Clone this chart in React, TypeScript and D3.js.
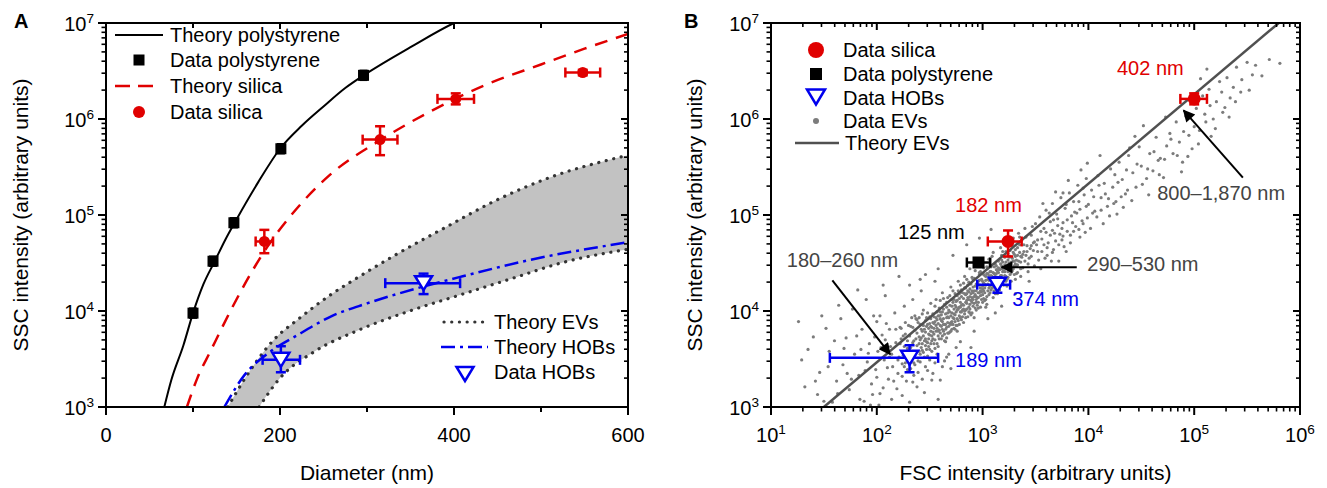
import React from 'react';
import * as d3 from 'd3';

// ---------------- Panel A data ----------------
const psTheoryD = [67, 75, 89, 100, 112, 125, 137, 150, 175, 200, 225, 250, 275, 300, 350, 400, 420];
const psTheoryI = [1e3, 1.9e3, 4.4e3, 9.5e3, 1.9e4, 3.3e4, 5.5e4, 9.0e4, 2.2e5, 4.9e5, 8.5e5, 1.35e6, 2.1e6, 3.0e6, 5.6e6, 1.0e7, 1.2e7];
const psDataD = [100, 123, 147, 201, 296];
const psDataI = [9.5e3, 3.3e4, 8.3e4, 4.9e5, 2.85e6];

const siTheoryD = [93, 105, 120, 143, 168, 185, 211, 257, 315, 369, 438, 500, 550, 600];
const siTheoryI = [1e3, 2.0e3, 3.8e3, 1.0e4, 2.6e4, 4.6e4, 9.5e4, 2.6e5, 6.0e5, 1.15e6, 2.3e6, 3.7e6, 5.4e6, 7.7e6];
const siDataD = [182, 315, 402, 548];
const siDataI = [5.3e4, 6.1e5, 1.62e6, 3.05e6];
const siDataDErr = [10, 20, 21, 20];
const siDataILo = [4.0e4, 4.2e5, 1.42e6, 2.85e6];
const siDataIHi = [7.0e4, 8.4e5, 1.85e6, 3.25e6];

const evUpperD = [140, 160, 191, 223, 257, 295, 334, 391, 449, 507, 600];
const evUpperI = [1e3, 2.0e3, 4.8e3, 8.5e3, 1.45e4, 2.4e4, 3.9e4, 7.5e4, 1.43e5, 2.4e5, 4.2e5];
const evLowerD = [176, 200, 240, 290, 349, 410, 468, 525, 600];
const evLowerI = [1e3, 2.0e3, 3.8e3, 6.3e3, 1.0e4, 1.5e4, 2.2e4, 3.2e4, 4.4e4];

const hobTheoryD = [136, 160, 184, 220, 260, 300, 365, 410, 487, 600];
const hobTheoryI = [1e3, 2.2e3, 3.5e3, 5.6e3, 8.9e3, 1.2e4, 1.8e4, 2.3e4, 3.4e4, 5.2e4];
const hobDataD = [201, 365];
const hobDataI = [3.1e3, 1.95e4];
const hobDataDLo = [180, 321];
const hobDataDHi = [223, 407];
const hobDataILo = [2.3e3, 1.5e4];
const hobDataIHi = [4.3e3, 2.45e4];

const xTicksA = [0, 200, 400, 600];
const xMinorA = [100, 300, 500];
const decadeExps = [3, 4, 5, 6, 7];
const xDecadeExpsB = [1, 2, 3, 4, 5, 6];

// ---------------- Panel B data ----------------
const siB_F = [1.0e5, 1.74e3];
const siB_I = [1.62e6, 5.3e4];
const siB_FLo = [7.4e4, 1.12e3];
const siB_FHi = [1.32e5, 2.34e3];
const siB_ILo = [1.42e6, 3.7e4];
const siB_IHi = [1.85e6, 6.9e4];

const psB_F = [915];
const psB_I = [3.2e4];
const psB_FLo = [710];
const psB_FHi = [1.18e3];

const hobB_F = [204, 1.38e3];
const hobB_I = [3.25e3, 1.88e4];
const hobB_FLo = [36, 890];
const hobB_FHi = [380, 1.82e3];
const hobB_ILo = [2.3e3, 1.55e4];
const hobB_IHi = [4.4e3, 2.24e4];

const evTheoryB_F = [31.6, 6.3e5];
const evTheoryB_I = [1e3, 1e7];

// EV scatter points, as "log10(FSC),log10(SSC)" pairs
const evPointsLog = `
2.21,3.52 2.23,3.71 2.24,3.45 2.26,3.63 2.27,3.88 2.28,3.58 2.29,3.39 2.31,3.74 2.32,3.62 2.33,3.51 2.34,3.83 2.35,3.69 2.36,3.95 2.37,3.57 2.38,3.77 2.39,3.48 2.40,3.66 2.41,3.86 2.42,3.72 2.43,3.59 2.44,4.01 2.45,3.81 2.46,3.64 2.47,3.93 2.48,3.53 2.49,3.76 2.50,3.87 2.51,4.08 2.52,3.69 2.53,3.97 2.54,3.82 2.55,3.61 2.56,4.12 2.57,3.91 2.58,3.74 2.59,4.03 2.60,3.85 2.61,3.96 2.62,4.19 2.63,3.79 2.64,4.07 2.65,3.68 2.66,3.93 2.67,4.14 2.68,4.01 2.69,3.87 2.70,4.25 2.71,3.98 2.72,4.09 2.73,3.82 2.74,4.18 2.75,4.04 2.76,3.92 2.77,4.31 2.78,4.13 2.79,3.99 2.80,4.22 2.81,4.07 2.82,3.88 2.83,4.36 2.84,4.17 2.85,4.02 2.86,4.27 2.87,4.12 2.88,4.44 2.89,3.96 2.90,4.21 2.91,4.33 2.92,4.08 2.93,4.26 2.94,4.15 2.95,4.48 2.96,4.03 2.97,4.38 2.98,4.24 2.99,4.12 3.00,4.31 3.01,4.45 3.02,4.19 3.03,4.36 3.04,4.07 3.05,4.28 3.06,4.54 3.07,4.41 3.08,4.22 3.09,4.33 3.10,4.61 3.11,4.46 3.12,4.27 3.13,4.39 3.14,4.18 3.15,4.52 3.16,4.35 3.17,4.66 3.18,4.44 3.19,4.29 3.20,4.57 3.21,4.48 3.22,4.36 3.23,4.71 3.24,4.53 3.25,4.42 3.26,4.63 3.27,4.31 3.28,4.55 3.29,4.76 3.30,4.47 3.31,4.64 3.32,4.39 3.33,4.58 3.34,4.81 3.35,4.69 3.36,4.51 3.37,4.74 3.38,4.45 3.39,4.62 3.40,4.86 3.42,4.68 3.44,4.55 3.46,4.79 3.48,4.63 3.50,4.91
2.22,3.66 2.25,3.54 2.27,3.76 2.30,3.49 2.32,3.84 2.34,3.67 2.36,3.55 2.38,3.91 2.40,3.73 2.42,3.62 2.44,3.85 2.46,3.71 2.48,3.98 2.50,3.75 2.52,3.58 2.54,3.94 2.56,3.79 2.58,3.87 2.60,4.11 2.62,3.89 2.64,3.76 2.66,4.04 2.68,3.84 2.70,3.95 2.72,4.21 2.74,3.96 2.76,4.11 2.78,3.86 2.80,4.06 2.82,4.29 2.84,4.01 2.86,4.14 2.88,4.23 2.90,3.98 2.92,4.34 2.94,4.21 2.96,4.09 2.98,4.41 3.00,4.17 3.02,4.28 3.04,4.46 3.06,4.24 3.08,4.37 3.10,4.14 3.12,4.49 3.14,4.31 3.16,4.43 3.18,4.58 3.20,4.34 3.22,4.62 3.24,4.41 3.26,4.49 3.28,4.68 3.30,4.38 3.32,4.53 3.34,4.71 3.36,4.44 3.38,4.59 3.41,4.77 3.43,4.49 3.45,4.65 3.47,4.88 3.49,4.72
2.23,3.82 2.26,3.42 2.29,3.69 2.33,3.93 2.35,3.46 2.37,3.71 2.41,3.55 2.43,3.97 2.45,3.52 2.47,3.84 2.49,3.63 2.51,3.92 2.53,3.71 2.55,4.05 2.57,3.66 2.59,3.95 2.61,3.71 2.63,4.13 2.65,3.86 2.67,3.77 2.69,4.16 2.71,3.89 2.73,4.12 2.75,3.85 2.77,4.02 2.79,4.27 2.81,3.94 2.83,4.18 2.85,4.33 2.87,3.99 2.89,4.28 2.91,4.05 2.93,4.42 2.95,4.14 2.97,4.27 2.99,4.51 3.01,4.21 3.03,4.12 3.05,4.39 3.07,4.26 3.09,4.57 3.11,4.34 3.13,4.24 3.15,4.45 3.17,4.37 3.19,4.62 3.21,4.41 3.23,4.33 3.25,4.56 3.27,4.73 3.29,4.44 3.31,4.57 3.33,4.48 3.35,4.77 3.37,4.56 3.39,4.69
1.26,3.89 1.40,3.73 1.29,3.49 1.32,3.21 1.44,3.13 1.46,3.36 1.55,3.58 1.62,3.27 1.58,3.05 1.68,3.44 1.71,3.72 1.66,3.92 1.74,3.18 1.79,3.55 1.83,3.33 1.86,3.81 1.88,3.06 1.91,3.47 1.93,3.66 1.95,3.24 1.97,3.95 1.99,3.39 2.01,3.58 2.03,3.14 2.05,3.75 2.07,3.49 2.09,3.87 2.11,3.29 2.13,3.63 2.15,3.42 2.17,3.98 2.19,3.19 2.02,3.02 2.14,3.08 2.24,3.12 2.31,3.05 2.38,3.21 2.45,3.15 2.52,3.28 2.58,3.08 2.35,3.33 2.48,3.38 2.62,3.42 2.55,3.46 2.68,3.55 1.77,4.02 1.90,4.12 2.00,3.89 2.08,4.16 2.18,3.81 1.52,3.82 1.60,3.69 1.85,3.60 1.72,3.35 1.94,3.02 2.12,3.52 2.20,3.35 2.28,3.27 2.26,4.05 2.34,4.12 2.42,4.21
3.52,4.74 3.54,4.98 3.56,4.62 3.58,4.86 3.60,5.05 3.62,4.71 3.64,4.93 3.66,5.12 3.68,4.81 3.70,5.01 3.72,4.69 3.74,5.18 3.76,4.92 3.78,5.07 3.80,4.83 3.82,5.23 3.84,4.99 3.86,5.14 3.88,4.88 3.90,5.31 3.92,5.06 3.94,4.94 3.96,5.21 3.98,5.38 4.00,5.11 3.55,4.83 3.63,5.02 3.71,4.89 3.79,5.11 3.87,5.03 3.95,5.28 3.59,4.55 3.67,4.64 3.75,4.74 3.83,4.79 3.91,4.85 3.99,4.97 3.57,5.12 3.69,5.24 3.81,5.36 3.93,5.47 3.76,5.23 3.99,5.54 3.65,4.52
4.03,5.26 4.06,5.04 4.09,5.41 4.12,5.18 4.15,5.33 4.18,5.09 4.21,5.48 4.23,5.29 4.26,5.14 4.29,5.55 4.32,5.37 4.35,5.22 4.38,5.62 4.39,5.70 4.42,5.44 4.45,5.29 4.48,5.71 4.50,5.51 4.52,5.93 4.55,5.38 4.58,5.64 4.61,5.46 4.64,5.81 4.66,5.57 4.68,5.59 4.71,5.39 4.74,5.72 4.77,5.85 4.80,5.64 4.83,5.97 4.86,5.76 4.89,5.55 4.92,6.03 4.95,5.83 4.98,5.69 4.11,5.62 4.27,5.01 4.44,5.82 4.57,5.21 4.73,6.02 4.88,5.45
5.02,6.11 5.05,5.88 5.08,6.24 5.11,5.97 5.14,6.31 5.18,6.00 5.21,6.18 5.24,6.39 5.27,6.07 5.31,6.43 5.34,6.22 5.37,6.33 5.40,6.54 5.44,6.28 5.50,6.59 5.55,6.46 5.81,6.58 5.06,6.42 5.16,5.82 5.29,6.12 4.96,6.21 5.12,6.52
2.31,4.27 2.46,4.38 2.58,4.44 2.72,4.58 2.85,4.69 2.97,4.76 3.08,4.85 2.66,3.52 2.79,3.68 2.92,3.79 3.05,3.92 3.18,4.05 3.31,4.18 3.44,4.31 2.55,4.31 2.89,3.62 3.12,3.98 2.41,4.33
2.36,3.80 2.38,3.64 2.39,3.88 2.41,3.70 2.43,3.79 2.44,3.57 2.46,3.90 2.47,3.68 2.49,3.82 2.50,3.60 2.51,3.79 2.53,3.88 2.54,3.66 2.56,3.93 2.57,3.82 2.59,3.71 2.60,3.99 2.61,3.84 2.63,3.92 2.64,3.69 2.66,3.83 2.67,3.98 2.68,3.77 2.70,3.88 2.71,4.05 2.72,3.93 2.74,3.81 2.75,3.99 2.76,4.16 2.78,3.95 2.79,4.09 2.80,3.91 2.82,4.13 2.83,4.00 2.84,4.24 2.86,3.94 2.87,4.20 2.88,4.07 2.90,4.14 2.91,4.25 2.92,3.93 2.94,4.09 2.95,4.29 2.96,4.19 2.98,4.04 2.99,4.33 3.00,4.23 3.02,4.11 3.03,4.27 3.04,4.39 3.06,4.17 3.07,4.33 3.08,4.46 3.10,4.25 3.11,4.39 3.12,4.18 3.14,4.42 3.15,4.33 3.16,4.22 3.18,4.37 3.19,4.51 3.20,4.27 3.22,4.45 3.23,4.26 3.24,4.60 3.26,4.38 3.27,4.51 3.28,4.42 3.30,4.59 3.31,4.33 3.33,4.66 3.34,4.52
2.37,3.92 2.40,3.58 2.42,3.81 2.45,3.69 2.48,3.86 2.51,3.66 2.53,3.78 2.55,3.89 2.58,3.95 2.60,3.77 2.62,3.99 2.65,3.97 2.67,3.88 2.69,4.06 2.71,3.81 2.73,4.02 2.76,3.85 2.78,4.04 2.81,4.19 2.83,3.97 2.85,4.11 2.87,4.04 2.89,4.18 2.92,4.21 2.94,4.01 2.96,4.31 2.98,4.16 3.01,4.29 3.03,4.04 3.05,4.21 3.07,4.48 3.09,4.29 3.12,4.36 3.14,4.24 3.17,4.49 3.19,4.41 3.21,4.56 3.24,4.35 3.26,4.45 3.29,4.61 3.32,4.47 3.35,4.61
2.44,3.74 2.52,3.83 2.58,3.63 2.62,3.81 2.66,3.72 2.70,3.79 2.74,4.06 2.77,3.90 2.80,3.99 2.84,4.09 2.88,3.98 2.91,4.12 2.95,4.06 2.99,4.20 3.02,4.37 3.06,4.32 3.10,4.40 3.13,4.31 3.17,4.28 3.21,4.33 3.25,4.50 3.29,4.52 3.33,4.40
3.36,4.36 3.40,4.52 3.43,4.41 3.46,4.57 3.49,4.47 3.52,4.62 3.55,4.44 3.58,4.69 3.61,4.58 3.64,4.79 3.66,4.61 3.69,4.73 3.72,4.52 3.75,4.86 3.77,4.67 3.80,4.95 3.83,4.71 3.86,4.83 3.89,5.02 3.92,4.77 3.95,4.91 3.98,5.09 4.02,4.86 4.05,5.19 4.08,4.98 4.12,5.05 4.16,5.22 4.20,4.99 4.24,5.12 4.28,5.34 4.33,5.08 4.37,5.26 3.42,4.62 3.48,4.71 3.53,4.53 3.60,4.82 3.67,4.95 3.73,4.80 3.79,4.62 3.85,4.92 3.91,5.14 3.97,4.82 4.04,5.02 4.10,5.31 4.14,4.91 4.19,5.17 4.25,5.42 4.31,5.19 4.36,5.47 4.41,5.15 4.46,5.53 4.51,5.32 4.56,5.48 4.62,5.66 4.67,5.42 4.72,5.58 4.78,5.79 4.84,5.62 4.90,5.87 4.94,5.61 5.00,5.92 5.04,5.74 5.10,6.05 5.15,6.14 5.20,5.90 5.26,6.28 5.33,6.02 5.39,6.18 5.45,6.41 5.52,6.30 5.58,6.56 5.64,6.45 5.71,6.62
1.54,3.42 1.63,3.14 1.69,3.61 1.76,3.29 1.81,3.74 1.84,3.08 1.89,3.38 1.92,3.56 1.96,3.13 1.98,3.73 2.00,3.31 2.04,3.62 2.06,3.20 2.08,3.70 2.10,3.41 2.12,3.81 2.14,3.55 2.16,3.27 2.18,3.67 2.20,3.49 2.22,3.83 2.24,3.32 2.25,3.74 2.27,3.46 2.29,3.61 2.30,3.85 2.32,3.40 2.33,3.55 2.34,3.26 2.36,3.44 2.39,3.36 2.41,3.47 2.43,3.29 2.46,3.42 2.50,3.49 2.53,3.35 2.57,3.55 2.60,3.28 2.64,3.48 2.70,3.40 2.75,3.62 1.35,3.60 1.48,3.95 1.64,4.06 1.82,4.22 1.42,3.27 1.50,3.06 2.06,4.27 2.21,4.36 2.03,3.95
2.46,3.78 2.48,3.67 2.50,3.94 2.52,3.74 2.54,3.87 2.55,3.70 2.57,3.99 2.59,3.80 2.60,3.92 2.62,3.74 2.63,4.02 2.65,3.81 2.66,4.09 2.68,3.93 2.69,3.78 2.71,4.12 2.72,3.86 2.73,3.97 2.75,4.10 2.76,3.79 2.77,4.21 2.79,3.93 2.80,4.15 2.81,4.01 2.83,4.24 2.84,3.93 2.85,4.18 2.87,4.30 2.88,4.02 2.89,4.11 2.90,4.35 2.92,4.15 2.93,4.03 2.94,4.28 2.96,4.14 2.97,4.40 2.98,4.21 3.00,4.09 3.01,4.38 3.02,4.24 3.04,4.15 3.05,4.33 3.07,4.19 3.08,4.41 3.10,4.32 3.11,4.21 3.13,4.47 3.14,4.35 3.16,4.27 3.18,4.53 3.20,4.42 3.22,4.31
2.47,3.60 2.51,3.84 2.54,3.76 2.58,3.79 2.61,3.90 2.64,3.86 2.67,3.94 2.70,3.86 2.73,3.92 2.76,4.01 2.79,4.04 2.82,4.06 2.85,4.08 2.88,4.15 2.91,4.19 2.94,4.12 2.97,4.19 3.00,4.26 3.03,4.32 3.06,4.37 3.09,4.24 3.12,4.31 3.15,4.40 3.18,4.47 3.21,4.37 3.24,4.47 3.27,4.40 3.30,4.52
2.40,3.93 2.43,3.66 2.49,3.71 2.56,3.85 2.63,3.86 2.69,3.99 2.74,3.89 2.78,4.18 2.82,4.02 2.86,4.21 2.90,4.09 2.93,4.17 2.97,4.32 3.01,4.13 3.05,4.45 3.09,4.36 3.13,4.43 3.17,4.33 3.22,4.51 3.26,4.57 3.31,4.49 3.36,4.57 3.41,4.58 3.46,4.68 3.51,4.69 3.56,4.75 3.61,4.66 3.66,4.84 3.71,4.96 3.76,4.78
`;

// Annotations (positions in data units: log10 FSC, log10 SSC)
const annotB = [
  { text: '402 nm', lf: 4.27, lv: 6.46, color: '#e00000' },
  { text: '800\u20131,870 nm', lf: 4.65, lv: 5.16, color: '#444' },
  { text: '182 nm', lf: 2.74, lv: 5.03, color: '#e00000' },
  { text: '125 nm', lf: 2.2, lv: 4.75, color: '#000' },
  { text: '180\u2013260 nm', lf: 1.15, lv: 4.46, color: '#444' },
  { text: '290\u2013530 nm', lf: 3.99, lv: 4.42, color: '#444' },
  { text: '374 nm', lf: 3.28, lv: 4.05, color: '#0000ee' },
  { text: '189 nm', lf: 2.74, lv: 3.42, color: '#0000ee' },
];
const arrowsB = [
  { from: [5.46, 5.39], to: [4.90, 6.09] },
  { from: [3.89, 4.455], to: [3.18, 4.455] },
  { from: [1.58, 4.32], to: [2.125, 3.55] },
];

const FONT = '"Liberation Sans", Arial, Helvetica, sans-serif';
const RED = '#e00000';
const BLUE = '#0000ee';

function Pow({ x, y, e, anchor, size = 20 }: any) {
  return (
    <text x={x} y={y} textAnchor={anchor} fontSize={size} fontFamily={FONT}>
      10<tspan dy={-8} fontSize={size * 0.68}>{e}</tspan>
    </text>
  );
}

function tri(cx: number, cy: number, w = 17, h = 14) {
  return `M${cx - w / 2},${cy - h / 2}L${cx + w / 2},${cy - h / 2}L${cx},${cy + h / 2}Z`;
}

function HErr({ x1, x2, y, color, cap = 10, sw = 2.5 }: any) {
  return (
    <g stroke={color} strokeWidth={sw} fill="none">
      <line x1={x1} x2={x2} y1={y} y2={y} />
      <line x1={x1} x2={x1} y1={y - cap / 2} y2={y + cap / 2} />
      <line x1={x2} x2={x2} y1={y - cap / 2} y2={y + cap / 2} />
    </g>
  );
}
function VErr({ y1, y2, x, color, cap = 10, sw = 2.5 }: any) {
  return (
    <g stroke={color} strokeWidth={sw} fill="none">
      <line x1={x} x2={x} y1={y1} y2={y2} />
      <line x1={x - cap / 2} x2={x + cap / 2} y1={y1} y2={y1} />
      <line x1={x - cap / 2} x2={x + cap / 2} y1={y2} y2={y2} />
    </g>
  );
}

export default function App() {
  const W = 1327, H = 488;
  const A = { l: 106, r: 628, t: 23, b: 407 };
  const B = { l: 771, r: 1300, t: 23, b: 407 };
  const xA = d3.scaleLinear().domain([0, 600]).range([A.l, A.r]);
  const yA = d3.scaleLog().domain([1e3, 1e7]).range([A.b, A.t]);
  const xB = d3.scaleLog().domain([10, 1e6]).range([B.l, B.r]);
  const yB = d3.scaleLog().domain([1e3, 1e7]).range([B.b, B.t]);

  const zip = (a: number[], b: number[]) => a.map((v, i) => [v, b[i]] as [number, number]);
  const lineA = d3.line<[number, number]>().x(d => xA(d[0])).y(d => yA(d[1])).curve(d3.curveMonotoneX);
  const lineBL = d3.line<[number, number]>().x(d => xB(d[0])).y(d => yB(d[1]));

  const upper = zip(evUpperD, evUpperI);
  const lower = zip(evLowerD, evLowerI).reverse();
  const bandPath = (lineA(upper) || '') + 'L' + (lineA(lower) || '').slice(1) + 'Z';

  const pts = evPointsLog.trim().split(/\s+/).map(s => s.split(',').map(Number));

  const minorLog: number[] = [];
  [3, 4, 5, 6].forEach(e => { for (let k = 2; k <= 9; k++) minorLog.push(k * Math.pow(10, e)); });
  const minorLogX: number[] = [];
  [1, 2, 3, 4, 5].forEach(e => { for (let k = 2; k <= 9; k++) minorLogX.push(k * Math.pow(10, e)); });

  const axisStroke = { stroke: '#000', strokeWidth: 2 };

  const dotted = { stroke: '#333', strokeWidth: 3.2, strokeDasharray: '0.1,7.6', strokeLinecap: 'round' as const, fill: 'none' };

  return (
    <svg width={W} height={H} viewBox={`0 0 ${W} ${H}`} style={{ position: 'absolute', left: 0, top: 0, background: '#fff' }} fontFamily={FONT}>
      <defs>
        <clipPath id="clipA"><rect x={A.l} y={A.t} width={A.r - A.l} height={A.b - A.t} /></clipPath>
        <clipPath id="clipB"><rect x={B.l} y={B.t} width={B.r - B.l} height={B.b - B.t} /></clipPath>
        <marker id="arrowHead" viewBox="0 0 10 10" refX="9" refY="5" markerWidth="7" markerHeight="6" markerUnits="strokeWidth" orient="auto">
          <path d="M0,0L10,5L0,10Z" fill="#000" />
        </marker>
      </defs>
      <rect width={W} height={H} fill="#fff" />

      {/* ================= PANEL A ================= */}
      <text x={14} y={28} fontSize={20} fontWeight="bold">A</text>
      <g clipPath="url(#clipA)">
        <path d={bandPath} fill="#c2c2c2" stroke="none" />
        <path d={lineA(upper) || ''} {...dotted} />
        <path d={lineA(zip(evLowerD, evLowerI)) || ''} {...dotted} />
        <path d={lineA(zip(hobTheoryD, hobTheoryI)) || ''} fill="none" stroke={BLUE} strokeWidth={2.5} strokeDasharray="14,5,3,5" />
        <path d={lineA(zip(siTheoryD, siTheoryI)) || ''} fill="none" stroke={RED} strokeWidth={2.5} strokeDasharray="13,9" />
        <path d={lineA(zip(psTheoryD, psTheoryI)) || ''} fill="none" stroke="#000" strokeWidth={2} />
      </g>
      {/* PS data */}
      {psDataD.map((d, i) => (
        <g key={'ps' + i}>
          <HErr x1={xA(d - 3)} x2={xA(d + 3)} y={yA(psDataI[i])} color="#000" cap={8} sw={2} />
          <VErr y1={yA(psDataI[i] * 1.12)} y2={yA(psDataI[i] / 1.12)} x={xA(d)} color="#000" cap={8} sw={2} />
          <rect x={xA(d) - 5.5} y={yA(psDataI[i]) - 5.5} width={11} height={11} fill="#000" />
        </g>
      ))}
      {/* Silica data */}
      {siDataD.map((d, i) => (
        <g key={'si' + i}>
          <HErr x1={xA(d - siDataDErr[i])} x2={xA(d + siDataDErr[i])} y={yA(siDataI[i])} color={RED} />
          <VErr y1={yA(siDataIHi[i])} y2={yA(siDataILo[i])} x={xA(d)} color={RED} />
          <circle cx={xA(d)} cy={yA(siDataI[i])} r={5.5} fill={RED} />
        </g>
      ))}
      {/* HOB data */}
      {hobDataD.map((d, i) => (
        <g key={'hob' + i}>
          <HErr x1={xA(hobDataDLo[i])} x2={xA(hobDataDHi[i])} y={yA(hobDataI[i])} color={BLUE} />
          <VErr y1={yA(hobDataIHi[i])} y2={yA(hobDataILo[i])} x={xA(d)} color={BLUE} />
          <path d={tri(xA(d), yA(hobDataI[i]))} fill="#fff" stroke={BLUE} strokeWidth={2.5} />
        </g>
      ))}
      {/* Axes A */}
      <rect x={A.l} y={A.t} width={A.r - A.l} height={A.b - A.t} fill="none" {...axisStroke} />
      {xTicksA.map(v => (
        <g key={'xa' + v}>
          <line x1={xA(v)} x2={xA(v)} y1={A.b} y2={A.b + 8} {...axisStroke} />
          <line x1={xA(v)} x2={xA(v)} y1={A.t} y2={A.t + 6} {...axisStroke} />
          <text x={xA(v)} y={442} textAnchor="middle" fontSize={20}>{v}</text>
        </g>
      ))}
      {xMinorA.map(v => (
        <g key={'xam' + v}>
          <line x1={xA(v)} x2={xA(v)} y1={A.b} y2={A.b + 5} {...axisStroke} />
          <line x1={xA(v)} x2={xA(v)} y1={A.t} y2={A.t + 5} {...axisStroke} />
        </g>
      ))}
      {decadeExps.map(e => (
        <g key={'ya' + e}>
          <line x1={A.l - 8} x2={A.l} y1={yA(Math.pow(10, e))} y2={yA(Math.pow(10, e))} {...axisStroke} />
          <line x1={A.r - 7} x2={A.r} y1={yA(Math.pow(10, e))} y2={yA(Math.pow(10, e))} {...axisStroke} />
          <Pow x={A.l - 12} y={yA(Math.pow(10, e)) + 8} e={e} anchor="end" />
        </g>
      ))}
      {minorLog.map((v, i) => (
        <g key={'yam' + i}>
          <line x1={A.l - 4.5} x2={A.l} y1={yA(v)} y2={yA(v)} stroke="#000" strokeWidth={1.6} />
          <line x1={A.r - 4} x2={A.r} y1={yA(v)} y2={yA(v)} stroke="#000" strokeWidth={1.6} />
        </g>
      ))}
      <text x={(A.l + A.r) / 2} y={480} textAnchor="middle" fontSize={21}>Diameter (nm)</text>
      <text transform={`translate(28,${(A.t + A.b) / 2}) rotate(-90)`} textAnchor="middle" fontSize={21}>SSC intensity (arbitrary units)</text>

      {/* Legend A top-left */}
      <line x1={115} x2={163} y1={35} y2={35} stroke="#000" strokeWidth={2} />
      <text x={170} y={42} fontSize={20}>Theory polystyrene</text>
      <rect x={133.5} y={54.5} width={11} height={11} fill="#000" />
      <text x={170} y={67} fontSize={20}>Data polystyrene</text>
      <line x1={115} x2={155} y1={86} y2={86} stroke={RED} strokeWidth={2.5} strokeDasharray="15,8" />
      <text x={170} y={93} fontSize={20}>Theory silica</text>
      <circle cx={139} cy={112} r={6} fill={RED} />
      <text x={170} y={119} fontSize={20}>Data silica</text>

      {/* Legend A bottom-right */}
      <line x1={444} x2={489} y1={322} y2={322} {...dotted} />
      <text x={494} y={329} fontSize={20}>Theory EVs</text>
      <line x1={441} x2={488} y1={347} y2={347} stroke={BLUE} strokeWidth={2.5} strokeDasharray="14,5,3,5" />
      <text x={494} y={354} fontSize={20}>Theory HOBs</text>
      <path d={tri(465, 374)} fill="#fff" stroke={BLUE} strokeWidth={2.5} />
      <text x={494} y={379} fontSize={20}>Data HOBs</text>

      {/* ================= PANEL B ================= */}
      <text x={684} y={28} fontSize={20} fontWeight="bold">B</text>
      <g clipPath="url(#clipB)">
        {pts.map((p, i) => (
          <circle key={'ev' + i} cx={xB(Math.pow(10, p[0]))} cy={yB(Math.pow(10, p[1]))} r={1.6} fill="#7c7c7c" />
        ))}
        <path d={lineBL(zip(evTheoryB_F, evTheoryB_I)) || ''} stroke="#505050" strokeWidth={2.5} fill="none" />
      </g>
      {/* Silica B */}
      {siB_F.map((f, i) => (
        <g key={'sib' + i}>
          <HErr x1={xB(siB_FLo[i])} x2={xB(siB_FHi[i])} y={yB(siB_I[i])} color={RED} />
          <VErr y1={yB(siB_IHi[i])} y2={yB(siB_ILo[i])} x={xB(f)} color={RED} />
          <circle cx={xB(f)} cy={yB(siB_I[i])} r={6.5} fill={RED} />
        </g>
      ))}
      {psB_F.map((f, i) => (
        <g key={'psb' + i}>
          <HErr x1={xB(psB_FLo[i])} x2={xB(psB_FHi[i])} y={yB(psB_I[i])} color="#000" />
          <rect x={xB(f) - 6} y={yB(psB_I[i]) - 6} width={12} height={12} fill="#000" />
        </g>
      ))}
      {hobB_F.map((f, i) => (
        <g key={'hobb' + i}>
          <HErr x1={xB(hobB_FLo[i])} x2={xB(hobB_FHi[i])} y={yB(hobB_I[i])} color={BLUE} />
          <VErr y1={yB(hobB_IHi[i])} y2={yB(hobB_ILo[i])} x={xB(f)} color={BLUE} />
          <path d={tri(xB(f), yB(hobB_I[i]))} fill="#fff" stroke={BLUE} strokeWidth={2.5} />
        </g>
      ))}
      {/* Annotations */}
      {annotB.map((a, i) => (
        <text key={'an' + i} x={xB(Math.pow(10, a.lf))} y={yB(Math.pow(10, a.lv))} fill={a.color} fontSize={20}>{a.text}</text>
      ))}
      {arrowsB.map((a, i) => (
        <line key={'ar' + i}
          x1={xB(Math.pow(10, a.from[0]))} y1={yB(Math.pow(10, a.from[1]))}
          x2={xB(Math.pow(10, a.to[0]))} y2={yB(Math.pow(10, a.to[1]))}
          stroke="#000" strokeWidth={2} markerEnd="url(#arrowHead)" />
      ))}
      {/* Axes B */}
      <rect x={B.l} y={B.t} width={B.r - B.l} height={B.b - B.t} fill="none" {...axisStroke} />
      {xDecadeExpsB.map(e => (
        <g key={'xb' + e}>
          <line x1={xB(Math.pow(10, e))} x2={xB(Math.pow(10, e))} y1={B.b} y2={B.b + 8} {...axisStroke} />
          <line x1={xB(Math.pow(10, e))} x2={xB(Math.pow(10, e))} y1={B.t} y2={B.t + 7} {...axisStroke} />
          <Pow x={xB(Math.pow(10, e))} y={442} e={e} anchor="middle" />
        </g>
      ))}
      {minorLogX.map((v, i) => (
        <g key={'xbm' + i}>
          <line x1={xB(v)} x2={xB(v)} y1={B.b} y2={B.b + 4.5} stroke="#000" strokeWidth={1.6} />
          <line x1={xB(v)} x2={xB(v)} y1={B.t} y2={B.t + 4} stroke="#000" strokeWidth={1.6} />
        </g>
      ))}
      {decadeExps.map(e => (
        <g key={'yb' + e}>
          <line x1={B.l - 8} x2={B.l} y1={yB(Math.pow(10, e))} y2={yB(Math.pow(10, e))} {...axisStroke} />
          <line x1={B.r - 7} x2={B.r} y1={yB(Math.pow(10, e))} y2={yB(Math.pow(10, e))} {...axisStroke} />
          <Pow x={B.l - 12} y={yB(Math.pow(10, e)) + 8} e={e} anchor="end" />
        </g>
      ))}
      {minorLog.map((v, i) => (
        <g key={'ybm' + i}>
          <line x1={B.l - 4.5} x2={B.l} y1={yB(v)} y2={yB(v)} stroke="#000" strokeWidth={1.6} />
          <line x1={B.r - 4} x2={B.r} y1={yB(v)} y2={yB(v)} stroke="#000" strokeWidth={1.6} />
        </g>
      ))}
      <text x={(B.l + B.r) / 2} y={480} textAnchor="middle" fontSize={21}>FSC intensity (arbitrary units)</text>
      <text transform={`translate(702,${(B.t + B.b) / 2}) rotate(-90)`} textAnchor="middle" fontSize={21}>SSC intensity (arbitrary units)</text>

      {/* Legend B */}
      <circle cx={816} cy={50} r={8} fill={RED} />
      <text x={843} y={57} fontSize={20}>Data silica</text>
      <rect x={810} y={68} width={12} height={12} fill="#000" />
      <text x={843} y={81} fontSize={20}>Data polystyrene</text>
      <path d={tri(816, 97, 18, 15)} fill="#fff" stroke={BLUE} strokeWidth={2.5} />
      <text x={843} y={105} fontSize={20}>Data HOBs</text>
      <circle cx={816} cy={121} r={3} fill="#7c7c7c" />
      <text x={843} y={128} fontSize={20}>Data EVs</text>
      <line x1={795} x2={839} y1={143} y2={143} stroke="#505050" strokeWidth={2.5} />
      <text x={845} y={150} fontSize={20}>Theory EVs</text>
    </svg>
  );
}
